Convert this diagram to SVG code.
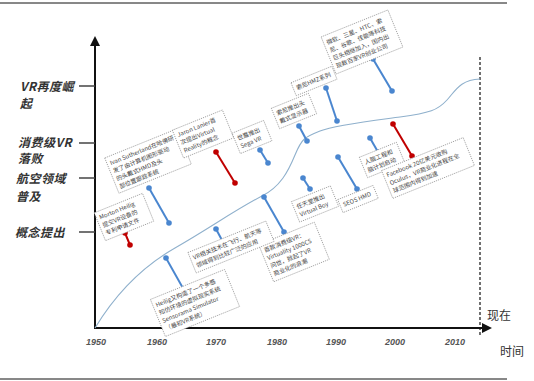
<svg xmlns="http://www.w3.org/2000/svg" width="534" height="381" viewBox="0 0 534 381">
<defs>
<style>
.ax{stroke:#111;stroke-width:2;fill:none}
.tick{stroke:#444;stroke-width:1.5}
.lab{font-family:"Noto Sans CJK SC","Noto Sans",sans-serif;font-size:12px;font-style:italic;font-weight:bold;fill:#333;letter-spacing:0.5px}
.yr{font-family:"Liberation Sans",sans-serif;font-size:9px;font-style:italic;font-weight:bold;fill:#555;text-anchor:middle}
.cap{font-family:"Noto Sans CJK SC",sans-serif;font-size:12px;fill:#333}
.box{fill:#fff;stroke:#999;stroke-width:0.8;stroke-dasharray:1.2,1}
.bt{font-family:"Noto Sans CJK SC","Noto Sans",sans-serif;font-size:6px;fill:#444}
.pb{stroke:#4a86cf;stroke-width:2}
.pbc{fill:#4a86cf}
.pr{stroke:#c00000;stroke-width:2}
.prc{fill:#c00000}
</style>
<marker id="ah" viewBox="0 0 10 10" refX="8" refY="5" markerWidth="5" markerHeight="5" orient="auto-start-reverse" markerUnits="strokeWidth">
<path d="M0,0 L10,5 L0,10 z" fill="#111"/>
</marker>
</defs>
<rect width="534" height="381" fill="#fff"/>
<line x1="0" y1="3" x2="507" y2="3" stroke="#111" stroke-width="1"/>
<line x1="0" y1="379" x2="507" y2="379" stroke="#111" stroke-width="1"/>

<g id="axes">
<line class="ax" x1="95" y1="329" x2="95" y2="38" marker-end="url(#ah)"/>
<line class="ax" x1="94" y1="328" x2="490" y2="328" marker-end="url(#ah)"/>
<line x1="480" y1="57" x2="480" y2="336" stroke="#111" stroke-width="1.2" stroke-dasharray="3,2"/>
<line class="tick" x1="79" y1="86" x2="95" y2="86"/>
<line class="tick" x1="79" y1="143" x2="95" y2="143"/>
<line class="tick" x1="79" y1="178" x2="95" y2="178"/>
<line class="tick" x1="79" y1="232" x2="95" y2="232"/>
<text class="lab" x="20" y="91">VR再度崛</text>
<text class="lab" x="20" y="108">起</text>
<text class="lab" x="18" y="147">消费级VR</text>
<text class="lab" x="18" y="163">落败</text>
<text class="lab" x="16" y="183">航空领域</text>
<text class="lab" x="16" y="201">普及</text>
<text class="lab" x="15" y="237">概念提出</text>
<text class="yr" x="96" y="345">1950</text>
<text class="yr" x="157" y="345">1960</text>
<text class="yr" x="216" y="345">1970</text>
<text class="yr" x="277" y="345">1980</text>
<text class="yr" x="336" y="345">1990</text>
<text class="yr" x="395" y="345">2000</text>
<text class="yr" x="455" y="345">2010</text>
<text class="cap" x="487" y="320" font-size="13">现在</text>
<text class="cap" x="500" y="356" font-size="11">时间</text>
</g>

<g id="curve">
<path d="M95,328 C115,295 140,268 175,248 S235,210 262,196 C280,187 288,172 295,155 S305,137 320,131 S370,121 400,117 S438,110 447,100 S460,80 480,79" fill="none" stroke="#8fb0cc" stroke-width="1.1"/>
</g>

<g id="connectors">
<g><line class="pr" x1="125" y1="233" x2="130" y2="245"/><circle class="prc" cx="125" cy="233" r="2.8"/><circle class="prc" cx="130" cy="245" r="2.8"/></g>
<g><line class="pb" x1="149" y1="188" x2="169" y2="223"/><circle class="pbc" cx="149" cy="188" r="2.8"/><circle class="pbc" cx="169" cy="223" r="2.8"/></g>
<g><line class="pr" x1="216" y1="152" x2="235" y2="183"/><circle class="prc" cx="216" cy="152" r="2.8"/><circle class="prc" cx="235" cy="183" r="2.8"/></g>
<g><line class="pb" x1="260" y1="150" x2="268" y2="163"/><circle class="pbc" cx="260" cy="150" r="2.8"/><circle class="pbc" cx="268" cy="163" r="2.8"/></g>
<g><line class="pb" x1="299" y1="126" x2="307" y2="141"/><circle class="pbc" cx="299" cy="126" r="2.8"/><circle class="pbc" cx="307" cy="141" r="2.8"/></g>
<g><line class="pb" x1="326" y1="88" x2="337" y2="121"/><circle class="pbc" cx="326" cy="88" r="2.8"/><circle class="pbc" cx="337" cy="121" r="2.8"/></g>
<g><line class="pb" x1="373" y1="59" x2="392" y2="91"/><circle class="pbc" cx="373" cy="59" r="2.8"/><circle class="pbc" cx="392" cy="91" r="2.8"/></g>
<g><line class="pb" x1="264" y1="197" x2="284" y2="232"/><circle class="pbc" cx="264" cy="197" r="2.8"/><circle class="pbc" cx="284" cy="232" r="2.8"/></g>
<g><line class="pb" x1="303" y1="178" x2="310" y2="189"/><circle class="pbc" cx="303" cy="178" r="2.8"/><circle class="pbc" cx="310" cy="189" r="2.8"/></g>
<g><line class="pb" x1="338" y1="157" x2="357" y2="189"/><circle class="pbc" cx="338" cy="157" r="2.8"/><circle class="pbc" cx="357" cy="189" r="2.8"/></g>
<g><line class="pb" x1="370" y1="138" x2="378" y2="152"/><circle class="pbc" cx="370" cy="138" r="2.8"/><circle class="pbc" cx="378" cy="152" r="2.8"/></g>
<g><line class="pr" x1="393" y1="124" x2="412" y2="156"/><circle class="prc" cx="393" cy="124" r="2.8"/><circle class="prc" cx="412" cy="156" r="2.8"/></g>
<g><line class="pb" x1="216" y1="229" x2="223" y2="242"/><circle class="pbc" cx="216" cy="229" r="2.8"/><circle class="pbc" cx="223" cy="242" r="2.8"/></g>
<g><line class="pb" x1="166" y1="258" x2="184" y2="290"/><circle class="pbc" cx="166" cy="258" r="2.8"/><circle class="pbc" cx="184" cy="290" r="2.8"/></g>
</g>

<g id="n-morton" transform="translate(124,217) rotate(-22)">
<rect class="box" x="-26" y="-15" width="52" height="30"/>
<text class="bt" x="-23" y="-6.5">Morton Heilig<tspan x="-23" dy="8.5">提交VR设备的</tspan><tspan x="-23" dy="8.5">专利申请文件</tspan></text>
</g>
<g id="n-ivan" transform="translate(148,161) rotate(-22)">
<rect class="box" x="-39" y="-19" width="78" height="38"/>
<text class="bt" x="-36" y="-10">Ivan Sutherland在哈佛研<tspan x="-36" dy="8.5">发了由计算机图形驱动</tspan><tspan x="-36" dy="8.5">的头戴式HMD及头</tspan><tspan x="-36" dy="8.5">部位置跟踪系统</tspan></text>
</g>
<g id="n-jaron" transform="translate(203,134) rotate(-22)">
<rect class="box" x="-27" y="-15" width="54" height="30"/>
<text class="bt" x="-24" y="-6.5">Jaron Lanier首<tspan x="-24" dy="8.5">次提出Virtual</tspan><tspan x="-24" dy="8.5">Reality的概念</tspan></text>
</g>
<g id="n-sega" transform="translate(252,137) rotate(-22)">
<rect class="box" x="-17" y="-11" width="34" height="22"/>
<text class="bt" x="-14" y="-2">世嘉推出<tspan x="-14" dy="8.5">Sega VR</tspan></text>
</g>
<g id="n-sonyhmd" transform="translate(294,111) rotate(-22)">
<rect class="box" x="-20" y="-11" width="40" height="22"/>
<text class="bt" x="-17" y="-2">索尼推出头<tspan x="-17" dy="8.5">戴式显示器</tspan></text>
</g>
<g id="n-hmz" transform="translate(314,81) rotate(-22)">
<rect class="box" x="-22" y="-7" width="44" height="14"/>
<text class="bt" x="-19" y="2">索尼HMZ系列</text>
</g>
<g id="n-giants" transform="translate(362,42) rotate(-22)">
<rect class="box" x="-36" y="-20" width="72" height="40"/>
<text class="bt" x="-33" y="-10.5">微软、三星、HTC、索<tspan x="-33" dy="8.5">尼、谷歌、佳能等科技</tspan><tspan x="-33" dy="8.5">巨头相继加入，国内出</tspan><tspan x="-33" dy="8.5">现数百家VR创业公司</tspan></text>
</g>
<g id="n-virtuality" transform="translate(294,252) rotate(-22)">
<rect class="box" x="-30" y="-20" width="60" height="40"/>
<text class="bt" x="-27" y="-10.5">首款消费级VR：<tspan x="-27" dy="8.5">Virtuality 1000CS</tspan><tspan x="-27" dy="8.5">问世，掀起了VR</tspan><tspan x="-27" dy="8.5">商业化的浪潮</tspan></text>
</g>
<g id="n-nintendo" transform="translate(315,204) rotate(-22)">
<rect class="box" x="-21" y="-11" width="42" height="22"/>
<text class="bt" x="-18" y="-2">任天堂推出<tspan x="-18" dy="8.5">Virtual Boy</tspan></text>
</g>
<g id="n-seos" transform="translate(358,199) rotate(-22)">
<rect class="box" x="-19" y="-7" width="38" height="14"/>
<text class="bt" x="-16" y="2">SEOS HMD</text>
</g>
<g id="n-brain" transform="translate(382,160) rotate(-22)">
<rect class="box" x="-20" y="-11" width="40" height="22"/>
<text class="bt" x="-17" y="-2">人脑工程和<tspan x="-17" dy="8.5">脑计划启动</tspan></text>
</g>
<g id="n-facebook" transform="translate(428,168) rotate(-22)">
<rect class="box" x="-44" y="-15" width="88" height="30"/>
<text class="bt" x="-41" y="-6.5">Facebook 20亿美元收购<tspan x="-41" dy="8.5">Oculus，VR商业化进程在全</tspan><tspan x="-41" dy="8.5">球范围内得到加速</tspan></text>
</g>
<g id="n-aviation" transform="translate(231,247) rotate(-22)">
<rect class="box" x="-42" y="-11" width="84" height="22"/>
<text class="bt" x="-39" y="-2">VR相关技术在飞行、航天等<tspan x="-39" dy="8.5">领域得到比较广泛的应用</tspan></text>
</g>
<g id="n-sensorama" transform="translate(195,303) rotate(-22)">
<rect class="box" x="-40" y="-20" width="80" height="40"/>
<text class="bt" x="-37" y="-10.5">Heilig又构造了一个多感<tspan x="-37" dy="8.5">知仿环境的虚拟现实系统</tspan><tspan x="-37" dy="8.5">Sensorama Simulator</tspan><tspan x="-37" dy="8.5">（最初VR系统）</tspan></text>
</g>
</svg>
